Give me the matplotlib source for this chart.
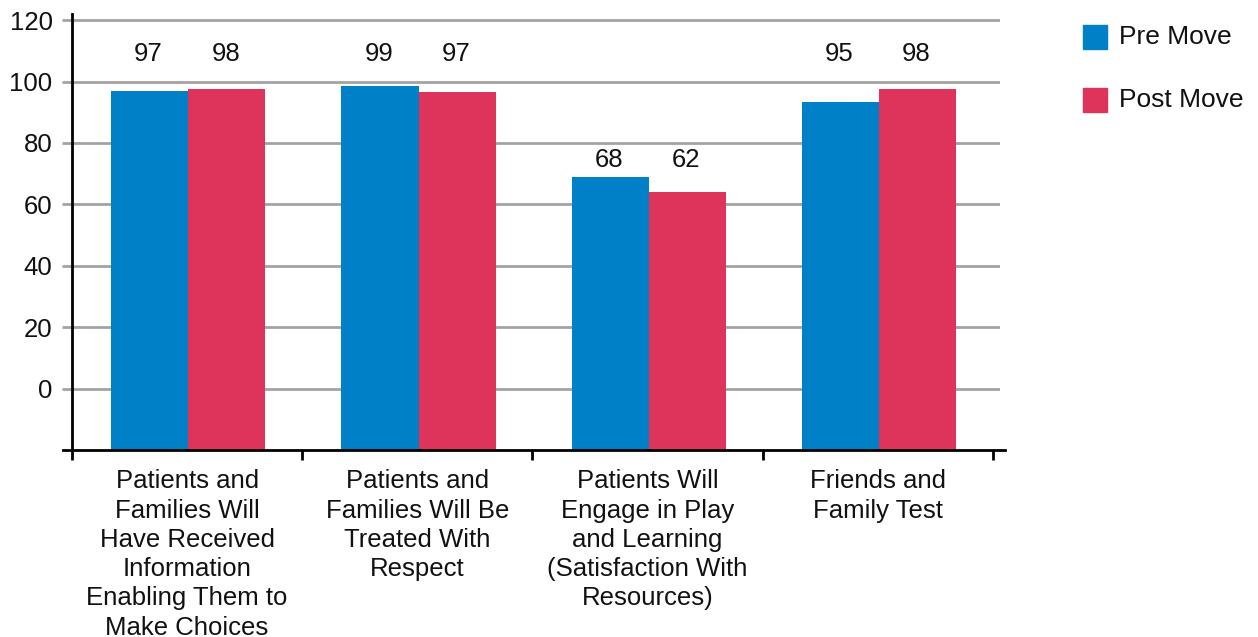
import matplotlib
matplotlib.use("Agg")
import matplotlib.pyplot as plt
from matplotlib.patches import Rectangle
from matplotlib.lines import Line2D
import numpy as np

plt.rcParams['font.family'] = ['Liberation Sans', 'DejaVu Sans']

categories = [
    "Patients and\nFamilies Will\nHave Received\nInformation\nEnabling Them to\nMake Choices",
    "Patients and\nFamilies Will Be\nTreated With\nRespect",
    "Patients Will\nEngage in Play\nand Learning\n(Satisfaction With\nResources)",
    "Friends and\nFamily Test",
]
series_names = ["Pre Move", "Post Move"]
pre_values = [96.8, 98.6, 68.9, 93.2]
post_values = [97.7, 96.7, 63.9, 97.7]
pre_labels = ["97", "99", "68", "95"]
post_labels = ["98", "97", "62", "98"]
label_heights = [109, 109, 74.5, 109]
yticks = [0, 20, 40, 60, 80, 100, 120]

BLUE = "#0080C6"
RED = "#DE345C"
GRID = "#A6A2A2"
TXT = "#111111"
FS = 18.5

W, H = 1258, 637
fig = plt.figure(figsize=(W / 100, H / 100), dpi=100)
ax = fig.add_axes([72 / W, 1 - 450 / H, (1000 - 72) / W, (450 - 14) / H])

ymin, ymax = -20, 122
ax.set_ylim(ymin, ymax)
ax.set_xlim(-0.5, 3.5 + 7 / 230)

x = np.arange(len(categories))
bw = 77 / 230
ax.bar(x - bw / 2 + 0.005, np.array(pre_values) - ymin, bw, bottom=ymin, color=BLUE, zorder=3, linewidth=0)
ax.bar(x + bw / 2 + 0.005, np.array(post_values) - ymin, bw, bottom=ymin, color=RED, zorder=3, linewidth=0)

for i in range(len(categories)):
    ax.text(x[i] - bw / 2, label_heights[i], pre_labels[i], ha="center", va="center", fontsize=FS, color=TXT)
    ax.text(x[i] + bw / 2, label_heights[i], post_labels[i], ha="center", va="center", fontsize=FS, color=TXT)

# gridlines
for yt in yticks:
    ax.axhline(yt, color=GRID, linewidth=2, zorder=1)
ax.set_yticks(yticks)
ax.set_yticklabels([str(v) for v in yticks], fontsize=FS, color=TXT)
ax.tick_params(axis="y", length=7, width=2, color=GRID, pad=7)

# x ticks at category boundaries
bounds = np.arange(len(categories) + 1) - 0.5
ax.set_xticks(bounds)
ax.set_xticklabels([])
ax.tick_params(axis="x", length=7, width=2, color="black", direction="out")

for s in ["top", "right", "bottom"]:
    ax.spines[s].set_visible(False)
ax.spines["left"].set_linewidth(2)
ax.spines["left"].set_zorder(5)

# bottom axis line extended beyond the plot area
ax.add_line(Line2D([-9 / 928, 1 + 5 / 928], [0, 0], transform=ax.transAxes,
                   color="black", linewidth=2, clip_on=False, zorder=6))

for i, lab in enumerate(categories):
    ax.text(x[i], -0.044, lab, transform=ax.get_xaxis_transform(), ha="center", va="top",
            fontsize=FS, color=TXT, linespacing=1.28)

# legend
for j, (name, col) in enumerate(zip(series_names, [BLUE, RED])):
    yc = 37 + j * 63
    fig.patches.append(Rectangle((1083 / W, 1 - (yc + 12) / H), 24 / W, 24 / H,
                                 transform=fig.transFigure, color=col))
    fig.text(1119 / W, 1 - yc / H, name, ha="left", va="center", fontsize=19, color=TXT)

fig.savefig("out.png", dpi=100)
